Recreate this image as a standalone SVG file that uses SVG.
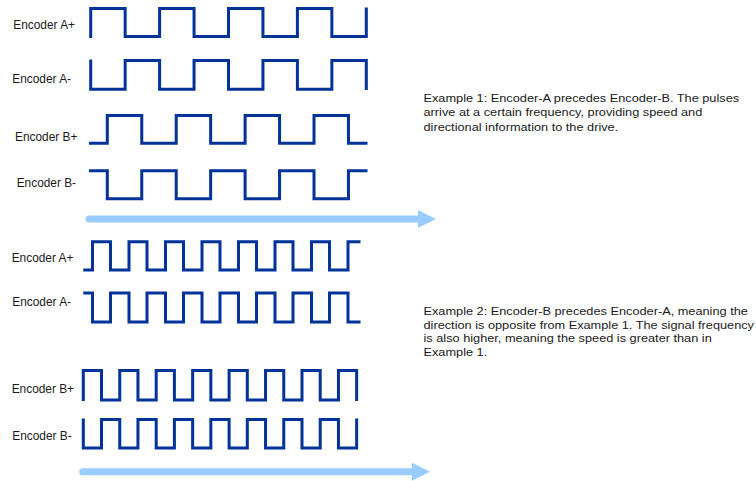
<svg xmlns="http://www.w3.org/2000/svg" width="756" height="481" viewBox="0 0 756 481">
<style>
.wave{fill:none;stroke:#003399;stroke-width:3;stroke-linejoin:miter;stroke-linecap:butt}
.lbl{font-family:"Liberation Sans",Arial,sans-serif;font-size:13.5px;fill:#1a1a1a}
.para{font-family:"Liberation Sans",Arial,sans-serif;font-size:11.5px;fill:#1a1a1a}
.timeline{fill:none;stroke:#99ccff;stroke-width:7;stroke-linecap:round}
</style>
<defs>
<marker id="ahead" markerUnits="userSpaceOnUse" markerWidth="18" markerHeight="18" refX="0" refY="9" orient="auto" viewBox="0 0 18 18">
<path d="M0,0 L18,9 L0,18 z" fill="#99ccff"/>
</marker>
</defs>
<rect width="756" height="481" fill="#ffffff"/>

<g id="ex1-a-plus">
<text class="lbl" transform="translate(13.3,29.3) scale(0.88,1)">Encoder A+</text>
<path class="wave" d="M90.7,38 V8.5 H125.15 V36.5 H159.6 V8.5 H194.05 V36.5 H228.5 V8.5 H262.95 V36.5 H297.4 V8.5 H331.85 V36.5 H366.3 V7.5"/>
</g>
<g id="ex1-a-minus">
<text class="lbl" transform="translate(12.3,82.7) scale(0.88,1)">Encoder A-</text>
<path class="wave" d="M90.7,59.5 V89.3 H125.15 V60.5 H159.6 V89.3 H194.05 V60.5 H228.5 V89.3 H262.95 V60.5 H297.4 V89.3 H331.85 V60.5 H366.3 V90"/>
</g>
<g id="ex1-b-plus">
<text class="lbl" transform="translate(15,140.7) scale(0.88,1)">Encoder B+</text>
<path class="wave" d="M89,143.3 H107.3 V115.5 H141.75 V143.3 H176.2 V115.5 H210.65 V143.3 H245.1 V115.5 H279.55 V143.3 H314 V115.5 H348.45 V143.3 H367.5"/>
</g>
<g id="ex1-b-minus">
<text class="lbl" transform="translate(16.7,186.5) scale(0.88,1)">Encoder B-</text>
<path class="wave" d="M89,170.7 H107.3 V198.7 H141.75 V170.7 H176.2 V198.7 H210.65 V170.7 H245.1 V198.7 H279.55 V170.7 H314 V198.7 H348.45 V170.7 H367.5"/>
</g>

<g id="ex2-a-plus">
<text class="lbl" transform="translate(11.7,261.7) scale(0.88,1)">Encoder A+</text>
<path class="wave" d="M83.3,270 H92.5 V241.7 H110.5 V270 H129 V241.7 H147 V270 H165.5 V241.7 H183.5 V270 H202 V241.7 H220 V270 H238.5 V241.7 H256.5 V270 H275 V241.7 H293 V270 H311.5 V241.7 H329.5 V270 H348 V241.7 H360.5"/>
</g>
<g id="ex2-a-minus">
<text class="lbl" transform="translate(12.3,306) scale(0.88,1)">Encoder A-</text>
<path class="wave" d="M83.3,293 H92.5 V322 H110.5 V293 H129 V322 H147 V293 H165.5 V322 H183.5 V293 H202 V322 H220 V293 H238.5 V322 H256.5 V293 H275 V322 H293 V293 H311.5 V322 H329.5 V293 H348 V322 H360.5"/>
</g>
<g id="ex2-b-plus">
<text class="lbl" transform="translate(11.7,393.3) scale(0.88,1)">Encoder B+</text>
<path class="wave" d="M83.3,401 V370.5 H101.5 V400 H119.75 V370.5 H137.95 V400 H156.2 V370.5 H174.4 V400 H192.65 V370.5 H210.85 V400 H229.1 V370.5 H247.3 V400 H265.55 V370.5 H283.75 V400 H302 V370.5 H320.2 V400 H338.45 V370.5 H356.65 V401"/>
</g>
<g id="ex2-b-minus">
<text class="lbl" transform="translate(12.3,440) scale(0.88,1)">Encoder B-</text>
<path class="wave" d="M83.3,418.5 V448 H101.5 V419.5 H119.75 V448 H137.95 V419.5 H156.2 V448 H174.4 V419.5 H192.65 V448 H210.85 V419.5 H229.1 V448 H247.3 V419.5 H265.55 V448 H283.75 V419.5 H302 V448 H320.2 V419.5 H338.45 V448 H356.65 V418.5"/>
</g>

<g id="connectors">
<path class="timeline" d="M89,219 H418" marker-end="url(#ahead)"/>
<path class="timeline" d="M82.7,471.7 H412" marker-end="url(#ahead)"/>
</g>

<g id="note-example-1" transform="translate(423.5,0) scale(1.11,1)">
<text class="para"><tspan x="0" y="102">Example 1: Encoder-A precedes Encoder-B. The pulses</tspan><tspan x="0" y="116.5">arrive at a certain frequency, providing speed and</tspan><tspan x="0" y="131">directional information to the drive.</tspan></text>
</g>
<g id="note-example-2" transform="translate(423.5,0) scale(1.11,1)">
<text class="para"><tspan x="0" y="315">Example 2: Encoder-B precedes Encoder-A, meaning the</tspan><tspan x="0" y="328.7">direction is opposite from Example 1. The signal frequency</tspan><tspan x="0" y="342.4">is also higher, meaning the speed is greater than in</tspan><tspan x="0" y="356">Example 1.</tspan></text>
</g>
</svg>
